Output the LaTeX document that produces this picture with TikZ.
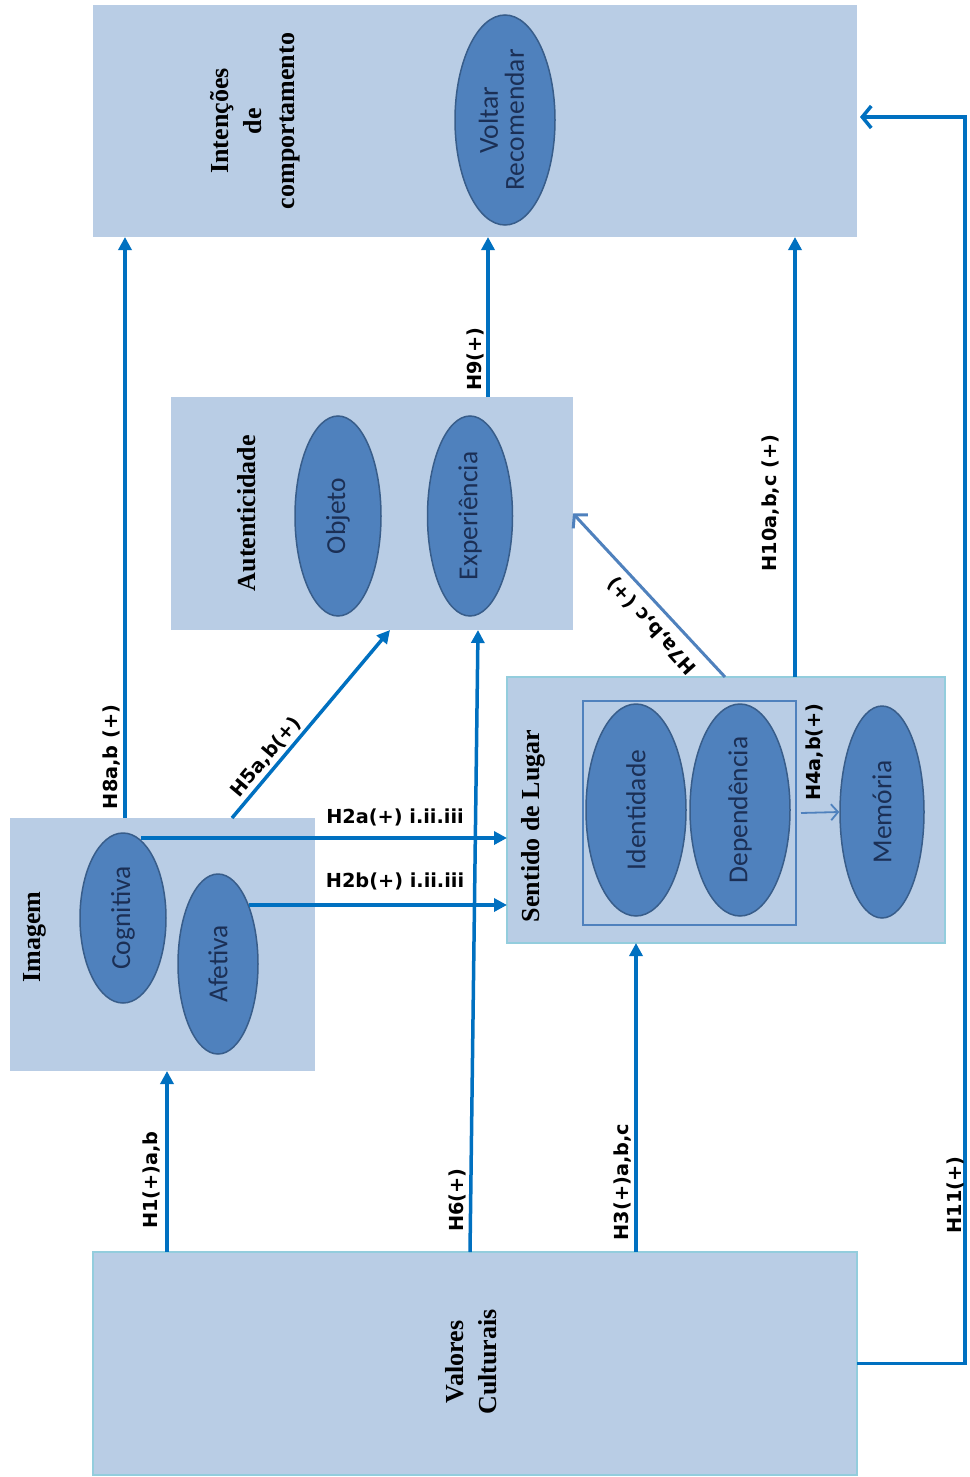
\documentclass[tikz,border=0pt]{standalone}
\usepackage{fontspec}
\usepackage{graphicx}
\usetikzlibrary{arrows.meta,calc,shapes.geometric}
\newfontfamily\titlef{Liberation Serif}
\newfontfamily\ellf{Carlito}
\newfontfamily\labf{DejaVu Sans}
\definecolor{boxfill}{HTML}{B9CDE5}
\definecolor{ellfill}{HTML}{4F81BD}
\definecolor{elldraw}{HTML}{385D8A}
\definecolor{elltext}{HTML}{1B2F55}
\definecolor{arrblue}{HTML}{0070C0}
\definecolor{lightarr}{HTML}{4F81BD}
\definecolor{cyanb}{HTML}{93CDDD}
\begin{document}
\begin{tikzpicture}[x=1pt,y=-1pt,
  box/.style={fill=boxfill,draw=none,inner sep=0pt,outer sep=0pt},
  cbox/.style={box,draw=cyanb,line width=2pt},
  ell/.style={ellipse,fill=ellfill,draw=elldraw,line width=1.5pt,inner sep=0pt,
    text=elltext,font=\ellf\fontsize{27.5}{29}\selectfont,align=center},
  ttl/.style={rotate=90,font=\titlef\bfseries\fontsize{26}{33}\selectfont,align=center,text=black},
  lab/.style={font=\labf\bfseries\fontsize{19.3}{21}\selectfont,text=black,inner sep=0pt},
  arr/.style={draw=arrblue,line width=3.5pt,-{Triangle[length=13pt,width=13pt]}},
  arrO/.style={draw=arrblue,line width=3.5pt,-{Straight Barb[length=9pt,width=22pt,line width=3.5pt]}},
  arrL/.style={draw=lightarr,line width=3pt,-{Straight Barb[length=9pt,width=20pt,line width=3pt]}},
  arrT/.style={draw=lightarr,line width=1.8pt,-{Straight Barb[length=7pt,width=16pt,line width=1.8pt]}}
]
\useasboundingbox (0,0) rectangle (969,1477);
\fill[white] (0,0) rectangle (969,1477);

% boxes
\node[box,minimum width=764pt,minimum height=232pt] (int) at (475,121) {};
\node[box,minimum width=402pt,minimum height=233pt] (aut) at (372,513.5) {};
\node[box,minimum width=305pt,minimum height=253pt] (img) at (162.5,944.5) {};
\node[cbox,minimum width=438pt,minimum height=266pt] (sdl) at (726,810) {};
\node[draw=ellfill,line width=2pt,inner sep=0pt,minimum width=213pt,minimum height=224pt] (inner) at (689.5,813) {};
\node[cbox,minimum width=764pt,minimum height=223pt] (val) at (475,1363.5) {};

% titles
\node[ttl] (tint) at (255,121) {Intenções\\de\\comportamento};
\node[ttl] (taut) at (247,513) {Autenticidade};
\node[ttl] (timg) at (35,937) {Imagem};
\node[ttl] (tsdl) at (533,826) {Sentido de Lugar};
\node[ttl] (tval) at (471,1362) {Valores\\Culturais};

% ellipses
\node[ell,minimum width=100pt,minimum height=210pt] (vol) at (505,120) {\rotatebox{90}{\begin{tabular}{@{}c@{}}Voltar\\[-3pt]Recomendar\end{tabular}}};
\node[ell,minimum width=86pt,minimum height=200pt] (obj) at (338,516) {\rotatebox{90}{Objeto}};
\node[ell,minimum width=85pt,minimum height=200pt] (exp) at (470,516) {\rotatebox{90}{Experiência}};
\node[ell,minimum width=86pt,minimum height=170pt] (cog) at (123,918) {\rotatebox{90}{Cognitiva}};
\node[ell,minimum width=80pt,minimum height=180pt] (afe) at (218,964) {\rotatebox{90}{Afetiva}};
\node[ell,minimum width=100pt,minimum height=212pt] (ide) at (636,810) {\rotatebox{90}{Identidade}};
\node[ell,minimum width=100pt,minimum height=212pt] (dep) at (740,810) {\rotatebox{90}{Dependência}};
\node[ell,minimum width=84pt,minimum height=212pt] (mem) at (882,812) {\rotatebox{90}{Memória}};

% helper coordinates
\coordinate (x8) at (125,0);
\coordinate (x9) at (488,0);
\coordinate (x10) at (795,0);
\coordinate (x1) at (167,0);
\coordinate (x6a) at (470,0);
\coordinate (x6b) at (478,0);
\coordinate (x5a) at (232,0);
\coordinate (x5b) at (390,0);
\coordinate (x7) at (725,0);
\coordinate (x11) at (965,0);
\coordinate (h2as) at (141,838);
\coordinate (h2bs) at (249,905);

% connectors
\draw[arr] (x8 |- img.north) -- (x8 |- int.south);
\draw[arr] (x9 |- aut.north) -- (x9 |- int.south);
\draw[arr] (x10 |- sdl.north) -- (x10 |- int.south);
\draw[arr] (x5a |- img.north) -- (x5b |- aut.south);
\draw[arr] (h2as) -- (h2as -| sdl.west);
\draw[arr] (h2bs) -- (h2bs -| sdl.west);
\draw[arr] (x6a |- val.north) -- (x6b |- aut.south);
\draw[arr] (ide |- val.north) -- (ide |- sdl.south);
\draw[arr] (x1 |- val.north) -- (x1 |- img.south);
\draw[arrL] (x7 |- sdl.north) -- (aut.east);
\draw[arrT] ($(inner.east)+(4,0)$) -- (mem.west);
\draw[arrO] (val.east) -- (val.east -| x11) |- ($(int.east)+(3,-4)$);

% labels
\node[lab,rotate=90] (l8) at (112,757) {H8a,b (+)};
\node[lab,rotate=50] (l5) at (266,757) {H5a,b(+)};
\node[lab] (l2a) at (395,817) {H2a(+) i.ii.iii};
\node[lab] (l2b) at (395,881) {H2b(+) i.ii.iii};
\node[lab,rotate=90] (l9) at (475,359) {H9(+)};
\node[lab,rotate=90] (l10) at (771,503) {H10a,b,c (+)};
\node[lab,rotate=132] (l7) at (652,626) {H7a,b,c (+)};
\node[lab,rotate=90] (l4) at (815,752) {H4a,b(+)};
\node[lab,rotate=90] (l1) at (152,1180) {H1(+)a,b};
\node[lab,rotate=90] (l6) at (457,1200) {H6(+)};
\node[lab,rotate=90] (l3) at (623,1182) {H3(+)a,b,c};
\node[lab,rotate=90] (l11) at (955,1195) {H11(+)};
\end{tikzpicture}
\end{document}
